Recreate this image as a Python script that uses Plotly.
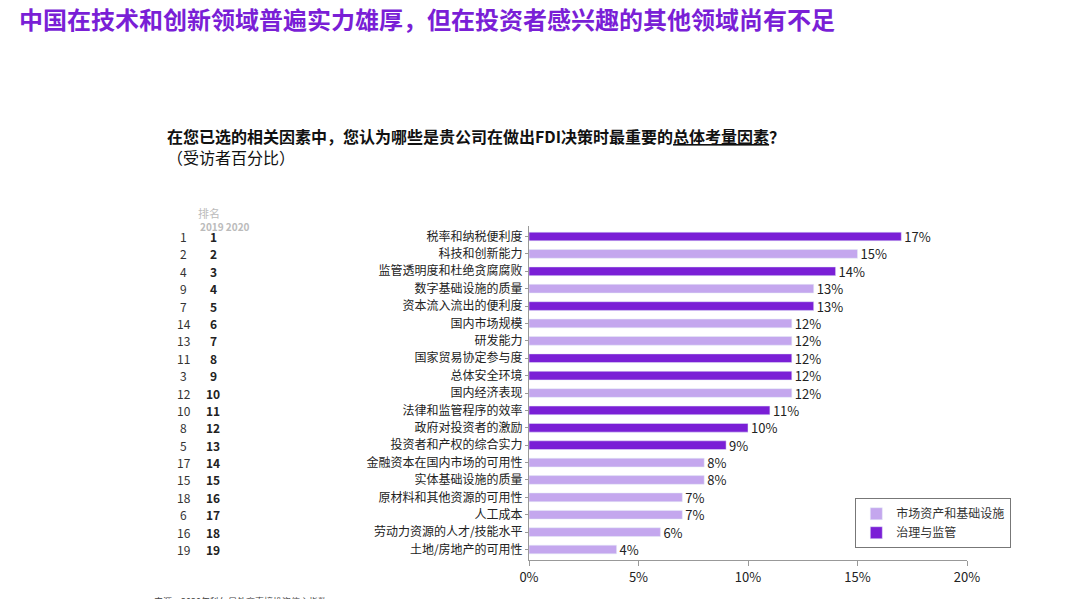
import plotly.graph_objects as go

factors = ["税率和纳税便利度", "科技和创新能力", "监管透明度和杜绝贪腐腐败", "数字基础设施的质量",
           "资本流入流出的便利度", "国内市场规模", "研发能力", "国家贸易协定参与度", "总体安全环境",
           "国内经济表现", "法律和监管程序的效率", "政府对投资者的激励", "投资者和产权的综合实力",
           "金融资本在国内市场的可用性", "实体基础设施的质量", "原材料和其他资源的可用性", "人工成本",
           "劳动力资源的人才/技能水平", "土地/房地产的可用性"]
values = [17, 15, 14, 13, 13, 12, 12, 12, 12, 12, 11, 10, 9, 8, 8, 7, 7, 6, 4]
groups = ["g", "m", "g", "m", "g", "m", "m", "g", "g", "m", "g", "g", "g", "m", "m", "m", "m", "m", "m"]
rank_2019 = [1, 2, 4, 9, 7, 14, 13, 11, 3, 12, 10, 8, 5, 17, 15, 18, 6, 16, 19]
rank_2020 = list(range(1, 20))

DARK = "#7a1fd6"
LIGHT = "#c4a7ee"
FONT = "Noto Sans CJK SC"

fig = go.Figure()
for key, name, color in [("m", "市场资产和基础设施", LIGHT), ("g", "治理与监管", DARK)]:
    idx = [i for i, g in enumerate(groups) if g == key]
    fig.add_trace(go.Bar(
        y=[factors[i] for i in idx], x=[values[i] for i in idx], orientation="h",
        name=name, marker_color=color, width=0.5,
        text=[f"{values[i]}%" for i in idx], textposition="outside", cliponaxis=False,
        constraintext="none", textfont=dict(size=13, color="#222"),
    ))

for f, r19, r20 in zip(factors, rank_2019, rank_2020):
    fig.add_annotation(x=-0.788, xref="paper", y=f, yref="y", text=str(r19), showarrow=False,
                       xanchor="center", font=dict(size=12, color="#333"))
    fig.add_annotation(x=-0.721, xref="paper", y=f, yref="y", text=f"<b>{r20}</b>", showarrow=False,
                       xanchor="center", font=dict(size=12, color="#222"))

fig.add_annotation(x=-0.76, xref="paper", y=1.069, yref="paper", text="排名", showarrow=False,
                   font=dict(size=11, color="#bbb"))
fig.add_annotation(x=-0.755, xref="paper", y=1.027, yref="paper", text="<b>2019 2020</b>", showarrow=False,
                   font=dict(size=10, color="#bbb"))

fig.add_annotation(x=-1.17, xref="paper", y=1.62, yref="paper", xanchor="left", yanchor="middle",
                   text="<b>中国在技术和创新领域普遍实力雄厚，但在投资者感兴趣的其他领域尚有不足</b>",
                   showarrow=False, font=dict(size=24, color=DARK, family=FONT))
fig.add_annotation(x=-0.832, xref="paper", y=1.31, yref="paper", xanchor="left", yanchor="top", align="left",
                   text="<b>在您已选的相关因素中，您认为哪些是贵公司在做出FDI决策时最重要的<u>总体考量因素</u>？</b><br>（受访者百分比）",
                   showarrow=False, font=dict(size=16, color="#111", family=FONT))
fig.add_annotation(x=-0.86, xref="paper", y=-0.125, yref="paper", xanchor="left", yanchor="middle",
                   text="来源：2020年科尔尼外商直接投资信心指数", showarrow=False,
                   font=dict(size=9, color="#444", family=FONT))

fig.update_layout(
    width=1080, height=599, barmode="overlay",
    paper_bgcolor="white", plot_bgcolor="white",
    font=dict(family=FONT, size=12, color="#222"),
    margin=dict(l=521, r=121, t=218, b=47, autoexpand=False),
    showlegend=True,
    legend=dict(x=0.745, y=0.185, xanchor="left", yanchor="top", traceorder="normal",
                bordercolor="#777", borderwidth=1, font=dict(size=12, color="#333")),
    xaxis=dict(range=[0, 20], tickvals=[0, 5, 10, 15, 20], ticktext=["0%", "5%", "10%", "15%", "20%"],
               showgrid=False, showline=True, linecolor="#999", ticks="outside", tickcolor="#999",
               ticklen=5, tickfont=dict(size=13, color="#222"), zeroline=False, automargin=False),
    yaxis=dict(categoryorder="array", categoryarray=factors, autorange="reversed",
               showline=True, linecolor="#999", ticks="outside", tickcolor="#999", ticklen=3,
               tickfont=dict(size=12, color="#222"), showgrid=False, automargin=False),
)

fig.write_html("out.html")
